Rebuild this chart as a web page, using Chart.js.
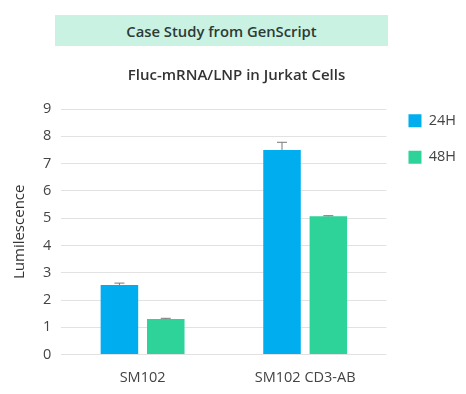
<!DOCTYPE html>
<html>
<head>
<meta charset="utf-8">
<script src="https://cdn.jsdelivr.net/npm/chart.js@4/dist/chart.umd.min.js"></script>
<style>
  body { margin: 0; background: #fff; }
  #wrap { position: relative; width: 466px; height: 394px; }
  #banner {
    position: absolute; left: 55px; top: 15px; width: 333px; height: 31px;
    background: #c9f2e3; color: #2d3a36; font: 600 14.8px "Open Sans", sans-serif;
    display: flex; align-items: center; justify-content: center;
  }
</style>
</head>
<body>
<div id="wrap">
  <canvas id="chart" width="466" height="394"></canvas>
  <div id="banner">Case Study from GenScript</div>
</div>
<script>
const categories = ["SM102", "SM102 CD3-AB"];
const values24h = [2.55, 7.5];
const values48h = [1.3, 5.07];
const err24h = [0.07, 0.28];
const err48h = [0.03, 0.02];
const yTicks = [0, 1, 2, 3, 4, 5, 6, 7, 8, 9];

const fontFam = "'Open Sans', sans-serif";

const errorBars = {
  id: "errorBars",
  afterDatasetsDraw(chart) {
    const ctx = chart.ctx;
    const y = chart.scales.y;
    ctx.save();
    ctx.strokeStyle = "#777";
    ctx.lineWidth = 1;
    chart.data.datasets.forEach((ds, i) => {
      const meta = chart.getDatasetMeta(i);
      meta.data.forEach((bar, j) => {
        const v = ds.data[j], e = ds.errors[j];
        const top = y.getPixelForValue(v + e);
        const bot = y.getPixelForValue(v);
        ctx.beginPath();
        ctx.moveTo(bar.x, bot);
        ctx.lineTo(bar.x, top);
        ctx.moveTo(bar.x - 5, top);
        ctx.lineTo(bar.x + 5, top);
        ctx.stroke();
      });
    });
    ctx.restore();
  }
};

new Chart(document.getElementById("chart"), {
  type: "bar",
  data: {
    labels: categories,
    datasets: [
      { label: "24H", data: values24h, errors: err24h, backgroundColor: "#00aeef" },
      { label: "48H", data: values48h, errors: err48h, backgroundColor: "#2ed39a" }
    ]
  },
  options: {
    responsive: false,
    animation: false,
    layout: { padding: { top: 67, left: 7, right: 0, bottom: 0 } },
    datasets: { bar: { categoryPercentage: 0.57, barPercentage: 0.81 } },
    plugins: {
      title: {
        display: true,
        text: "Fluc-mRNA/LNP in Jurkat Cells",
        color: "#333",
        font: { family: fontFam, size: 15, weight: "600" },
        padding: { top: 0, bottom: 24 }
      },
      legend: {
        position: "right",
        align: "start",
        title: { display: true, text: " ", font: { size: 12 }, padding: { top: 10, bottom: 0 } },
        labels: {
          boxWidth: 13, boxHeight: 13, padding: 22, color: "#444",
          font: { family: fontFam, size: 14.5 }
        }
      },
      tooltip: { enabled: false }
    },
    scales: {
      x: {
        grid: { display: false },
        border: { display: false },
        ticks: { color: "#444", padding: 7, font: { family: fontFam, size: 14.5 } }
      },
      y: {
        min: 0, max: 9,
        afterBuildTicks: (axis) => { axis.ticks = yTicks.map(v => ({ value: v })); },
        grid: { color: "#e2e2e2", drawTicks: false },
        border: { display: false },
        ticks: { color: "#444", padding: 10, font: { family: fontFam, size: 14.5 } },
        title: {
          display: true, text: "Lumilescence", color: "#333",
          font: { family: fontFam, size: 15 }
        }
      }
    }
  },
  plugins: [errorBars]
});
</script>
</body>
</html>
